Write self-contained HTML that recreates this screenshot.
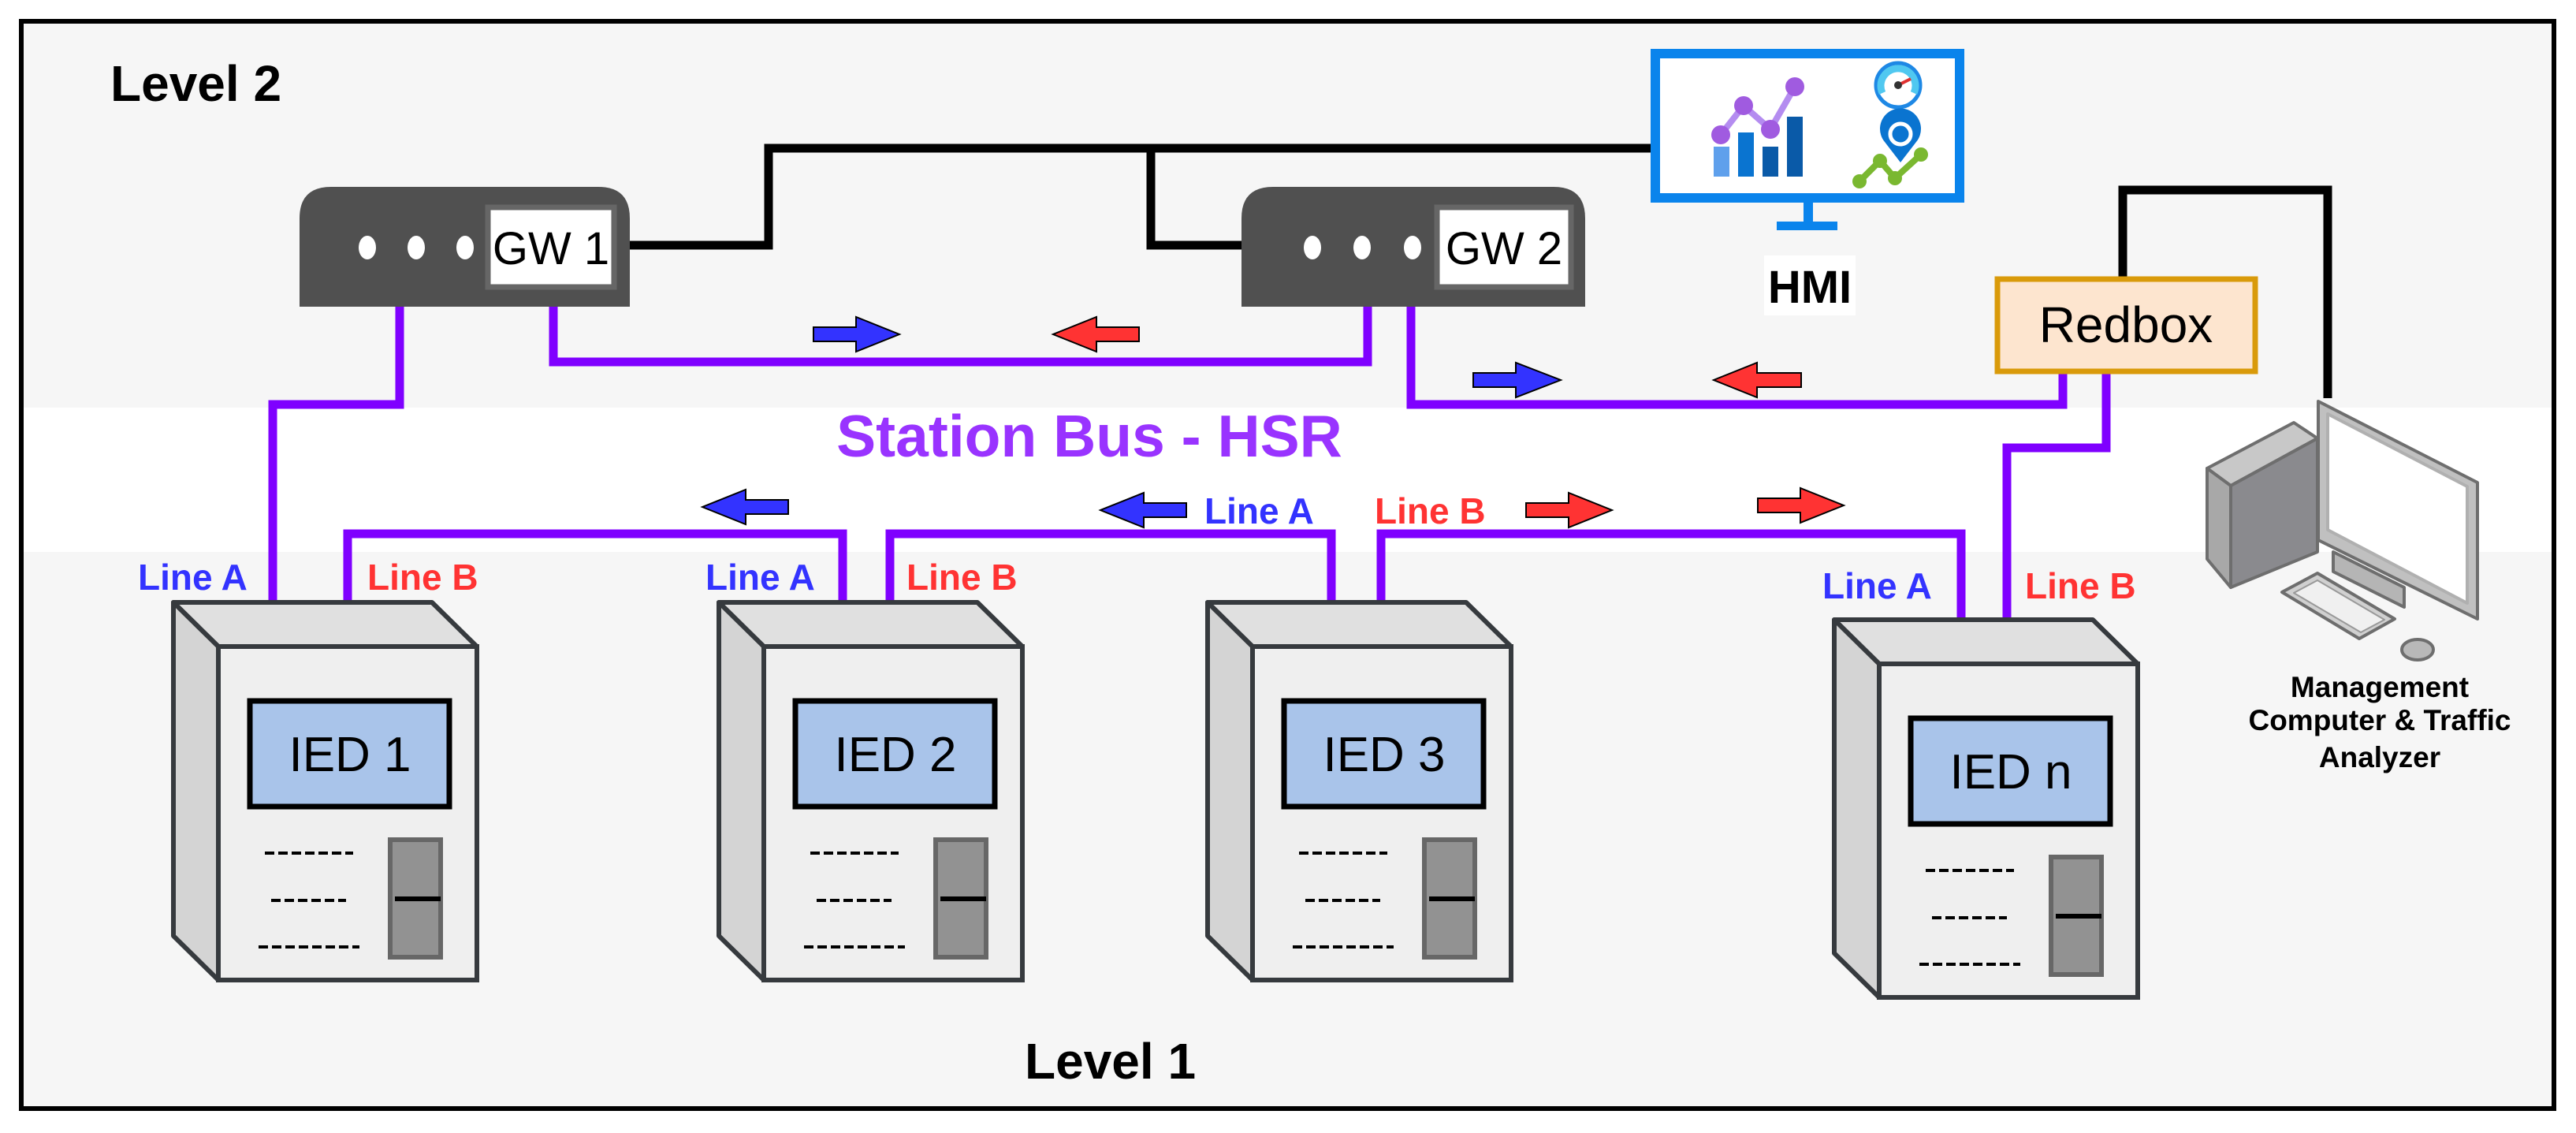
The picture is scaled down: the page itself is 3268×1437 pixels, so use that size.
<!DOCTYPE html>
<html><head><meta charset="utf-8"><style>
html,body{margin:0;padding:0;background:#fff;}
svg{display:block;}
text{font-family:"Liberation Sans",Arial,sans-serif;}
</style></head><body>
<svg width="3268" height="1437" viewBox="0 0 3268 1437" xmlns="http://www.w3.org/2000/svg">
<rect x="0" y="0" width="3268" height="1437" fill="#fff"/>
<rect x="27" y="27" width="3213" height="1379" fill="#f6f6f6" stroke="#000" stroke-width="6"/>
<rect x="30" y="517" width="3207" height="183" fill="#fff"/>

<text x="140" y="128" font-size="64" font-weight="bold">Level 2</text>
<text x="1300" y="1368" font-size="64" font-weight="bold">Level 1</text>

<!-- black links -->
<g fill="none" stroke="#000" stroke-width="11">
<polyline points="799,311 975,311 975,188 2100,188"/>
<polyline points="1575,311 1460,311 1460,188"/>
<polyline points="2693,351 2693,241 2953,241 2953,505"/>
</g>

<!-- purple links -->
<g fill="none" stroke="#7f00ff" stroke-width="11">
<polyline points="507,389 507,513 346,513 346,766"/>
<polyline points="702,389 702,459 1735,459 1735,389"/>
<polyline points="1790,389 1790,513 2617,513 2617,474"/>
<polyline points="2672,474 2672,568 2546,568 2546,790"/>
<polyline points="441,766 441,677 1069,677 1069,766"/>
<polyline points="1129,766 1129,677 1689,677 1689,766"/>
<polyline points="1752,766 1752,677 2488,677 2488,788"/>
</g>

<!-- gateways -->
<g>
<path d="M380,389 V277 Q380,237 420,237 H759 Q799,237 799,277 V389 Z" fill="#505050"/>
<rect x="619" y="263" width="160" height="101" fill="#fff" stroke="#666" stroke-width="7"/>
<ellipse cx="466" cy="314" rx="11" ry="15" fill="#fff"/>
<ellipse cx="528" cy="314" rx="11" ry="15" fill="#fff"/>
<ellipse cx="590" cy="314" rx="11" ry="15" fill="#fff"/>
<text x="699" y="335" font-size="58" text-anchor="middle">GW 1</text>
</g>
<g>
<path d="M1575,389 V277 Q1575,237 1615,237 H1971 Q2011,237 2011,277 V389 Z" fill="#505050"/>
<rect x="1823" y="263" width="170" height="101" fill="#fff" stroke="#666" stroke-width="7"/>
<ellipse cx="1665" cy="314" rx="11" ry="15" fill="#fff"/>
<ellipse cx="1728" cy="314" rx="11" ry="15" fill="#fff"/>
<ellipse cx="1792" cy="314" rx="11" ry="15" fill="#fff"/>
<text x="1908" y="335" font-size="58" text-anchor="middle">GW 2</text>
</g>

<!-- HMI -->
<rect x="2100" y="68" width="386" height="183" fill="#fff" stroke="#0a84ec" stroke-width="12"/>
<rect x="2288" y="257" width="12" height="26" fill="#0a84ec"/>
<rect x="2254" y="281" width="77" height="11" fill="#0a84ec"/>
<rect x="2174" y="186" width="20" height="38" fill="#5fa0ec"/>
<rect x="2205" y="168" width="20" height="56" fill="#0a74d0"/>
<rect x="2236" y="186" width="20" height="38" fill="#0a5aa8"/>
<rect x="2267" y="148" width="20" height="76" fill="#0a5aa8"/>
<polyline points="2183,171 2212,134 2246,164 2277,110" fill="none" stroke="#b48cf0" stroke-width="8"/>
<circle cx="2183" cy="171" r="12" fill="#a05be0"/>
<circle cx="2212" cy="134" r="12" fill="#a05be0"/>
<circle cx="2246" cy="164" r="12" fill="#a05be0"/>
<circle cx="2277" cy="110" r="12" fill="#a05be0"/>
<circle cx="2408" cy="108" r="28" fill="#fff" stroke="#1e88e5" stroke-width="5"/>
<path d="M2388,118 A22,22 0 1,1 2428,118" fill="none" stroke="#50c8f0" stroke-width="9"/>
<line x1="2408" y1="108" x2="2424" y2="100" stroke="#e03030" stroke-width="4"/>
<circle cx="2408" cy="108" r="5" fill="#333"/>
<path d="M2411,206 L2391,180 A26,26 0 1,1 2431,180 Z" fill="#0a74d0"/>
<circle cx="2411" cy="170" r="13" fill="none" stroke="#fff" stroke-width="5"/>
<polyline points="2359,230 2385,204 2404,226 2437,196" fill="none" stroke="#7ab830" stroke-width="8"/>
<circle cx="2359" cy="230" r="9" fill="#7ab830"/><circle cx="2385" cy="204" r="9" fill="#7ab830"/><circle cx="2404" cy="226" r="9" fill="#7ab830"/><circle cx="2437" cy="196" r="9" fill="#7ab830"/>
<rect x="2238" y="324" width="116" height="76" fill="#fff"/>
<text x="2296" y="384" font-size="58" font-weight="bold" text-anchor="middle">HMI</text>

<!-- Redbox -->
<rect x="2534" y="354" width="327" height="117" fill="#fde5cf" stroke="#d99a0a" stroke-width="7"/>
<text x="2697" y="434" font-size="64" text-anchor="middle">Redbox</text>

<!-- Computer -->
<g stroke="#6e6e6e" stroke-width="4" stroke-linejoin="round">
<polygon points="2800,594 2910,536 2940,556 2830,616" fill="#c8c8c8"/>
<polygon points="2800,594 2830,616 2830,745 2800,709" fill="#a8a8a8"/>
<polygon points="2830,616 2940,556 2940,700 2830,745" fill="#8a8a8e"/>
<polygon points="2941,509 3143,612 3143,785 2941,685" fill="#c0c0c0"/>
<polygon points="2953,525 3130,617 3130,765 2953,672" fill="#fff" stroke="#b0b0b0"/>
<polygon points="2960,700 3050,745 3050,770 2960,725" fill="#b5b5b5"/>
<polygon points="2895,751 2940,727 3038,785 2993,810" fill="#d0d0d0"/>
<polygon points="2910,752 2940,736 3025,786 2995,802" fill="#f0f0f0" stroke="#999" stroke-width="2"/>
<ellipse cx="3067" cy="824" rx="20" ry="13" fill="#b8b8b8"/>
</g>
<g font-size="37" font-weight="bold" text-anchor="middle">
<text x="3019" y="884">Management</text>
<text x="3019" y="926">Computer &amp; Traffic</text>
<text x="3019" y="973">Analyzer</text>
</g>

<text x="1382" y="579" font-size="75" font-weight="bold" fill="#9933ff" text-anchor="middle">Station Bus - HSR</text>

<!-- arrows -->
<g stroke="#000" stroke-width="2">
<polygon fill="#3333ff" points="1032,415 1086,415 1086,402 1141,424 1086,446 1086,433 1032,433"/>
<polygon fill="#ff3333" points="1445,415 1391,415 1391,402 1336,424 1391,446 1391,433 1445,433"/>
<polygon fill="#3333ff" points="1869,473 1923,473 1923,460 1980,482 1923,504 1923,491 1869,491"/>
<polygon fill="#ff3333" points="2285,473 2229,473 2229,460 2174,482 2229,504 2229,491 2285,491"/>
<polygon fill="#3333ff" points="1000,634 946,634 946,621 891,643 946,665 946,652 1000,652"/>
<polygon fill="#3333ff" points="1505,638 1451,638 1451,625 1396,647 1451,669 1451,656 1505,656"/>
<polygon fill="#ff3333" points="1936,638 1990,638 1990,625 2045,647 1990,669 1990,656 1936,656"/>
<polygon fill="#ff3333" points="2230,632 2284,632 2284,619 2339,641 2284,663 2284,650 2230,650"/>
</g>

<!-- line labels -->
<g font-size="46" font-weight="bold">
<text x="1528" y="664" fill="#3333ff">Line A</text>
<text x="1744" y="664" fill="#ff3333">Line B</text>
<text x="175" y="748" fill="#3333ff">Line A</text>
<text x="466" y="748" fill="#ff3333">Line B</text>
<text x="895" y="748" fill="#3333ff">Line A</text>
<text x="1150" y="748" fill="#ff3333">Line B</text>
<text x="2312" y="759" fill="#3333ff">Line A</text>
<text x="2569" y="759" fill="#ff3333">Line B</text>
</g>

<!-- IED template -->
<defs>
<g id="ied">
<polygon points="220,764 548,764 605,820 277,820" fill="#e0e0e0" stroke="#363a3e" stroke-width="6" stroke-linejoin="round"/>
<polygon points="220,764 277,820 277,1243 220,1187" fill="#d4d4d4" stroke="#363a3e" stroke-width="6" stroke-linejoin="round"/>
<rect x="277" y="820" width="328" height="423" fill="#efefef" stroke="#363a3e" stroke-width="6"/>
<rect x="317" y="889" width="253" height="134" fill="#a9c4ea" stroke="#000" stroke-width="7"/>
<g stroke="#000" stroke-width="4" stroke-dasharray="12,5">
<line x1="336" y1="1082" x2="448" y2="1082"/>
<line x1="344" y1="1142" x2="439" y2="1142"/>
<line x1="328" y1="1201" x2="456" y2="1201"/>
</g>
<rect x="495" y="1065" width="64" height="149" fill="#929292" stroke="#676767" stroke-width="6"/>
<line x1="501" y1="1140" x2="559" y2="1140" stroke="#000" stroke-width="6"/>
</g>
</defs>
<use href="#ied"/>
<use href="#ied" transform="translate(692,0)"/>
<use href="#ied" transform="translate(1312,0)"/>
<use href="#ied" transform="translate(2107,22)"/>
<g font-size="62" text-anchor="middle">
<text x="444" y="978">IED 1</text>
<text x="1136" y="978">IED 2</text>
<text x="1756" y="978">IED 3</text>
<text x="2551" y="1000">IED n</text>
</g>
</svg>
</body></html>
